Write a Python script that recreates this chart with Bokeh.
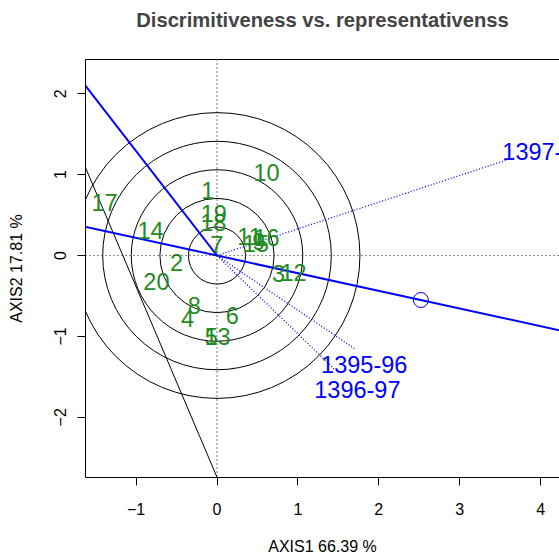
from bokeh.plotting import figure
from bokeh.models import ColumnDataSource, FixedTicker, Span, LinearAxis
from bokeh.embed import file_html
from bokeh.resources import INLINE
from bokeh.core.properties import value

# ---- data ----
gen_labels = [str(i) for i in range(1, 21)]
gen_x = [-0.114, -0.501, 0.760, -0.365, -0.072, 0.188, -0.002, -0.282, 0.517, 0.613,
         0.402, 0.945, 0.007, -0.822, 0.480, 0.613, -1.390, -0.047, -0.040, -0.749]
gen_y = [0.800, -0.086, -0.226, -0.782, -1.000, -0.745, 0.132, -0.617, 0.177, 1.025,
         0.238, -0.212, -1.000, 0.309, 0.144, 0.226, 0.650, 0.411, 0.518, -0.317]

env_labels = ["1395-96", "1396-97", "1397-98"]
env_x = [1.714, 1.452, 3.67]          # ends of dotted environment vectors
env_y = [-1.16, -1.407, 1.21]
env_lab_x = [1.82, 1.735, 4.06]       # label positions
env_lab_y = [-1.35, -1.658, 1.288]

circle_radii = [0.353, 0.706, 1.06, 1.413, 1.767]

aea_x = [-1.7, 4.3]                   # average environment axis
aea_y = [0.371, -0.939]
ort_x = [0.0, -1.7]                   # second blue line
ort_y = [0.0, 2.193]
black_x = [-1.7, 0.02]                # thin black line
black_y = [1.262, -2.787]
avg_env_x = [2.52]
avg_env_y = [-0.55]

x_ticks = [-1, 0, 1, 2, 3, 4]
y_ticks = [-2, -1, 0, 1, 2]

TITLE = "Discrimitiveness vs. representativenss"
X_LABEL = "AXIS1 66.39 %"
Y_LABEL = "AXIS2 17.81 %"

FONT = "Liberation Sans"

p = figure(width=559, height=557, output_backend="svg", toolbar_location=None,
           x_range=(-1.6255, 4.2336), y_range=(-2.744, 2.423),
           min_border_left=85, min_border_right=0, min_border_top=59,
           min_border_bottom=80, title=TITLE)
p.outline_line_color = None
p.grid.visible = False
p.background_fill_color = "white"

p.title.text_font = FONT
p.title.text_font_size = "20.2px"
p.title.text_font_style = "bold"
p.title.align = "center"
p.title.vertical_align = "top"
p.title.offset = 1
p.title.standoff = 0

bottom_axis = p.below[0]
left_axis = p.left[0]

for ax in (bottom_axis, left_axis):
    ax.axis_line_color = "black"
    ax.major_tick_line_color = "black"
    ax.major_tick_out = 8
    ax.major_tick_in = 0
    ax.minor_tick_line_color = None
    ax.major_label_text_font = FONT
    ax.major_label_text_font_size = "16px"
    ax.major_label_text_color = "black"
    ax.axis_label_text_font = FONT
    ax.axis_label_text_font_size = "16px"
    ax.axis_label_text_font_style = "normal"
    ax.axis_label_text_color = "black"

bottom_axis.ticker = FixedTicker(ticks=x_ticks)
left_axis.ticker = FixedTicker(ticks=y_ticks)
bottom_axis.axis_label = X_LABEL
left_axis.axis_label = Y_LABEL
bottom_axis.major_label_standoff = 17
bottom_axis.axis_label_standoff = 20
left_axis.major_label_orientation = "vertical"
left_axis.major_label_standoff = 11
left_axis.axis_label_standoff = 27

# top edge of the box; its (white, invisible) tick spaces the title upward
top_axis = LinearAxis(ticker=FixedTicker(ticks=[0]), major_tick_out=27, major_tick_in=0,
                      major_label_standoff=0, axis_line_color="black",
                      major_tick_line_color="white", minor_tick_line_color=None,
                      major_label_text_font_size="0px", major_label_text_color="white",
                      major_label_overrides={0: ""})
p.add_layout(top_axis, "above")

# dotted reference axes
p.add_layout(Span(location=0, dimension="width", line_color="#222222",
                  line_dash="1 3", line_width=1.2))
p.add_layout(Span(location=0, dimension="height", line_color="#222222",
                  line_dash="1 3", line_width=1.2))

# concentric circles
p.circle(x=[0] * len(circle_radii), y=[0] * len(circle_radii), radius=circle_radii,
         fill_color=None, line_color="black", line_width=1)

# thin black line
p.line(black_x, black_y, line_color="black", line_width=1)

# environment vectors
for ex, ey in zip(env_x, env_y):
    p.line([0, ex], [0, ey], line_color="blue", line_dash="1 2", line_width=1.3)

# blue thick lines
p.line(aea_x, aea_y, line_color="blue", line_width=2)
p.line(ort_x, ort_y, line_color="blue", line_width=2)
p.scatter(avg_env_x, avg_env_y, marker="circle", size=15, fill_color=None,
          line_color="blue", line_width=1)

# genotype labels
gsrc = ColumnDataSource(dict(x=gen_x, y=gen_y, t=gen_labels))
p.text(x="x", y="y", text="t", source=gsrc, text_color="#228B22",
       text_font=value(FONT), text_font_size="23.5px",
       text_align="center", text_baseline="middle")

# environment labels
esrc = ColumnDataSource(dict(x=env_lab_x, y=env_lab_y, t=env_labels))
p.text(x="x", y="y", text="t", source=esrc, text_color="blue",
       text_font=value(FONT), text_font_size="23.5px",
       text_align="center", text_baseline="middle")

open("out.html", "w").write(file_html(p, INLINE))
